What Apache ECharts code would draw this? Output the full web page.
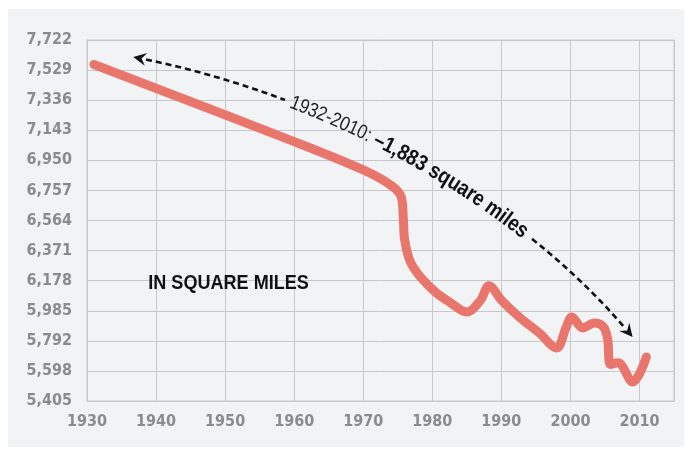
<!DOCTYPE html>
<html>
<head>
<meta charset="utf-8">
<script src="https://cdn.jsdelivr.net/npm/echarts@6/dist/echarts.min.js"></script>
<style>
  html, body { margin: 0; padding: 0; background: #fff; }
  #panel { position: absolute; left: 8px; top: 9px; width: 676px; height: 438px; background: #f2f3f5; }
  #chart { position: absolute; left: 0; top: 0; width: 687px; height: 456px; }
</style>
</head>
<body>
<div id="panel"></div>
<div id="chart"></div>
<script>
// land area over time (square miles)
var years = [1931, 1960, 1970, 1974, 1975.5, 1975.8, 1976, 1976.8, 1978.3, 1980.6, 1982.5, 1985,
  1987, 1988.2, 1990, 1992.6, 1995.5, 1998, 1999.4, 2000.2, 2001.8, 2003.5, 2004.8, 2005.4, 2005.8, 2006.9, 2009, 2011];
var area = [7565, 7070, 6888, 6790, 6715, 6580, 6440, 6300, 6200, 6098, 6040, 5976,
  6053, 6145, 6053, 5944, 5841, 5745, 5880, 5944, 5874, 5906, 5880, 5800, 5640, 5650, 5527, 5687];

var xTicks = [1930, 1940, 1950, 1960, 1970, 1980, 1990, 2000, 2010];
var yTickLabels = ['5,405', '5,598', '5,792', '5,985', '6,178', '6,371', '6,564', '6,757', '6,950', '7,143', '7,336', '7,529', '7,722'];
var yMin = 5405, yMax = 7722;
var yStep = (yMax - yMin) / (yTickLabels.length - 1);
var xMin = 1930, xMax = 2015;

// annotation: curved arrow (bezier in data units) with the text along it
var arrowCurve = [[1936.7, 7613], [1965.2, 7369], [1992.6, 6695], [2009, 5816]];
var noteStartYear = 1959.4;
var notePlain = '1932-2010: ';
var noteBold = '–1,883 square miles';
var unitLabel = 'IN SQUARE MILES';
var unitPos = [1950.5, 6162];

var gridCol = '#c6c8cb';
var condFont = '"DejaVu Sans Condensed", "Liberation Sans", sans-serif';

var chart = echarts.init(document.getElementById('chart'));

var option = {
  backgroundColor: 'transparent',
  animation: false,
  grid: { left: 87, right: 13, top: 40, bottom: 55, show: true, borderColor: gridCol, borderWidth: 1 },
  xAxis: {
    type: 'value', min: xMin, max: xMax, interval: 10,
    axisLine: { show: true, lineStyle: { color: gridCol } },
    axisTick: { show: false },
    splitLine: { show: true, lineStyle: { color: gridCol, width: 1 } },
    axisLabel: {
      color: '#8b8b8b', fontFamily: condFont, fontWeight: 'bold', fontSize: 16, margin: 13,
      formatter: function (v) { return xTicks.indexOf(v) >= 0 ? String(v) : ''; }
    }
  },
  yAxis: {
    type: 'value', min: yMin, max: yMax, interval: yStep,
    axisLine: { show: true, lineStyle: { color: gridCol } },
    axisTick: { show: false },
    splitLine: { show: true, lineStyle: { color: gridCol, width: 1 } },
    axisLabel: {
      color: '#8b8b8b', fontFamily: condFont, fontWeight: 'bold', fontSize: 16, margin: 15,
      formatter: function (v) { return yTickLabels[Math.round((v - yMin) / yStep)] || ''; }
    }
  },
  series: [{
    type: 'line',
    data: years.map(function (y, i) { return [y, area[i]]; }),
    smooth: 0.35,
    showSymbol: false,
    symbol: 'none',
    lineStyle: { color: '#e8766c', width: 9, cap: 'round', join: 'round' },
    z: 3
  }]
};
chart.setOption(option);

// ---- annotations ----
function px(p) { return chart.convertToPixel({ gridIndex: 0 }, p); }

var P = arrowCurve.map(px);
function bez(t) {
  var u = 1 - t;
  var a = u * u * u, b = 3 * u * u * t, c = 3 * u * t * t, d = t * t * t;
  return [a * P[0][0] + b * P[1][0] + c * P[2][0] + d * P[3][0],
          a * P[0][1] + b * P[1][1] + c * P[2][1] + d * P[3][1]];
}
var N = 600, pts = [], lens = [0];
for (var i = 0; i <= N; i++) {
  pts.push(bez(i / N));
  if (i > 0) {
    var dx = pts[i][0] - pts[i - 1][0], dy = pts[i][1] - pts[i - 1][1];
    lens.push(lens[i - 1] + Math.sqrt(dx * dx + dy * dy));
  }
}
var L = lens[N];
function at(s) {
  s = Math.max(0, Math.min(L, s));
  var k = 1;
  while (k < N && lens[k] < s) k++;
  var f = (s - lens[k - 1]) / ((lens[k] - lens[k - 1]) || 1);
  var x = pts[k - 1][0] + f * (pts[k][0] - pts[k - 1][0]);
  var y = pts[k - 1][1] + f * (pts[k][1] - pts[k - 1][1]);
  var ang = Math.atan2(pts[k][1] - pts[k - 1][1], pts[k][0] - pts[k - 1][0]);
  return [x, y, ang];
}
function slice(s0, s1) {
  var out = [];
  for (var s = s0; s < s1; s += 2) { var q = at(s); out.push([q[0], q[1]]); }
  var e = at(s1); out.push([e[0], e[1]]);
  return out;
}

var startX = px([noteStartYear, yMin])[0];
var sText = 0;
for (var j = 0; j <= N; j++) { if (pts[j][0] >= startX) { sText = lens[j]; break; } }

var ctx = document.createElement('canvas').getContext('2d');
var plainFont = 'normal 20px "Liberation Sans", sans-serif';
var boldFont = 'bold 22px "Liberation Sans", sans-serif';
var squeeze = 0.86;
var graphics = [];
var s = sText;
function placeText(str, font, fill) {
  ctx.font = font;
  for (var c = 0; c < str.length; c++) {
    var w = ctx.measureText(str[c]).width * squeeze;
    var q = at(s + w / 2);
    graphics.push({
      type: 'text', x: q[0], y: q[1], rotation: -q[2], scaleX: squeeze, z: 10,
      style: { text: str[c], font: font, fill: fill, align: 'center', verticalAlign: 'middle' }
    });
    s += w;
  }
}
placeText(notePlain, plainFont, '#222');
placeText(noteBold, boldFont, '#111');
var sTextEnd = s;

var headLen = 13, headW = 6.5;
var dashStyle = { stroke: '#111', lineWidth: 2.6, lineDash: [6, 4], fill: null };
graphics.push({ type: 'polyline', z: 10, shape: { points: slice(headLen, sText - 6) }, style: dashStyle });
graphics.push({ type: 'polyline', z: 10, shape: { points: slice(sTextEnd + 8, L - headLen) }, style: dashStyle });

function head(tipS, dir) {
  var q = at(tipS);
  var a = q[2] + (dir < 0 ? Math.PI : 0);
  var bx = q[0] - headLen * Math.cos(a), by = q[1] - headLen * Math.sin(a);
  var nx = -Math.sin(a) * headW, ny = Math.cos(a) * headW;
  return {
    type: 'polygon', z: 10,
    shape: { points: [[q[0], q[1]], [bx + nx, by + ny], [bx + 0.35 * headLen * Math.cos(a), by + 0.35 * headLen * Math.sin(a)], [bx - nx, by - ny]] },
    style: { fill: '#111' }
  };
}
graphics.push(head(0, -1));
graphics.push(head(L, 1));

var up = px(unitPos);
graphics.push({
  type: 'text', x: up[0], y: up[1], scaleX: 0.86, z: 10,
  style: { text: unitLabel, font: 'bold 21px "Liberation Sans", sans-serif', fill: '#111', align: 'center', verticalAlign: 'middle' }
});

chart.setOption({ graphic: graphics });
</script>
</body>
</html>
